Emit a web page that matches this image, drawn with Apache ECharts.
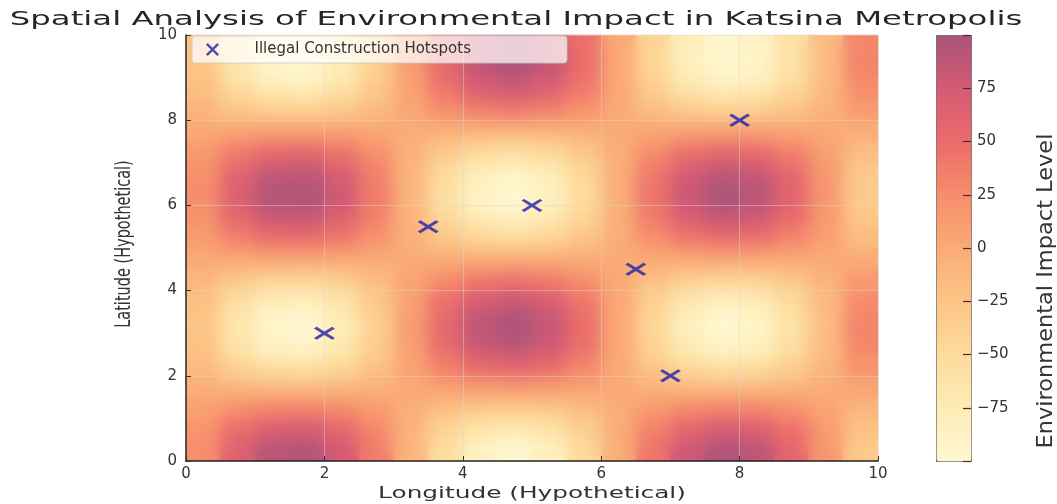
<!DOCTYPE html>
<html>
<head>
<meta charset="utf-8">
<script src="https://cdn.jsdelivr.net/npm/echarts@6/dist/echarts.min.js"></script>
<style>
  body { margin: 0; background: #fff; }
  .layer { position: absolute; left: 0; top: 0; width: 1057px; height: 504px; }
  /* blurred copy of the field, clipped to the plot so the cells read as a smooth surface */
  #smooth { position: absolute; left: 186px; top: 35px; width: 692px; height: 426px; filter: blur(9px); clip-path: inset(0); }
</style>
</head>
<body>
<div id="base" class="layer"></div>
<div id="smooth"></div>
<div id="top" class="layer"></div>
<script>
// cell centres (0.5 wide cells)
const lonCenters = ['0.25','0.75','1.25','1.75','2.25','2.75','3.25','3.75','4.25','4.75','5.25','5.75','6.25','6.75','7.25','7.75','8.25','8.75','9.25','9.75'];
const latCenters = ['0.25','0.75','1.25','1.75','2.25','2.75','3.25','3.75','4.25','4.75','5.25','5.75','6.25','6.75','7.25','7.75','8.25','8.75','9.25','9.75'];

// impact level, one row per latitude (bottom row first)
const impactRows = [
  [24,66,92,95,75,37,-10,-55,-87,-97,-83,-49,-3,44,80,96,89,60,17,-31],
  [18,50,69,72,57,28,-8,-42,-66,-73,-63,-37,-2,33,60,73,67,46,13,-23],
  [8,21,30,31,25,12,-3,-18,-28,-31,-27,-16,-1,14,26,31,29,20,5,-10],
  [-4,-12,-17,-18,-14,-7,2,10,16,18,15,9,1,-8,-15,-18,-16,-11,-3,6],
  [-16,-43,-60,-62,-49,-24,7,36,56,63,54,32,2,-28,-52,-62,-58,-39,-11,20],
  [-23,-63,-88,-91,-72,-35,10,53,83,92,79,47,3,-42,-76,-92,-85,-58,-16,30],
  [-25,-68,-94,-98,-77,-38,11,57,89,99,85,50,3,-45,-82,-99,-91,-62,-17,32],
  [-20,-56,-78,-81,-64,-31,9,47,73,82,71,42,3,-37,-68,-82,-75,-51,-14,26],
  [-11,-30,-42,-44,-35,-17,5,26,40,45,38,23,1,-20,-37,-44,-41,-28,-8,14],
  [1,3,4,4,3,1,0,-2,-3,-4,-3,-2,0,2,3,4,3,2,1,-1],
  [13,35,49,50,40,20,-6,-29,-46,-51,-44,-26,-2,23,42,51,47,32,9,-16],
  [21,59,82,85,67,33,-9,-49,-77,-86,-74,-44,-3,39,71,86,79,54,15,-28],
  [25,68,95,98,78,38,-11,-57,-89,-100,-86,-51,-3,45,82,99,92,62,17,-32],
  [22,61,85,88,69,34,-10,-51,-80,-89,-77,-45,-3,40,74,89,82,56,16,-29],
  [14,39,54,56,44,22,-6,-32,-51,-57,-49,-29,-2,25,47,56,52,35,10,-18],
  [2,6,8,9,7,3,-1,-5,-8,-9,-8,-4,0,4,7,9,8,5,2,-3],
  [-10,-27,-38,-39,-31,-15,4,23,36,40,34,20,1,-18,-33,-40,-37,-25,-7,13],
  [-19,-53,-74,-77,-61,-30,8,45,70,78,67,40,3,-35,-64,-78,-72,-49,-14,25],
  [-24,-67,-93,-97,-77,-38,11,56,88,98,85,50,3,-44,-81,-98,-91,-61,-17,32],
  [-23,-64,-89,-93,-73,-36,10,54,84,94,81,48,3,-42,-78,-94,-87,-59,-16,30]
];

const hotspotLon = [2, 3.5, 5, 6.5, 7, 8];
const hotspotLat = [3, 5.5, 6, 4.5, 2, 8];

const impactColors = ['#fff8d4','#feecb5','#fddb9c','#fcc586','#faab76','#f68d6b','#eb6c6b','#d65a74','#a8547a'];
const FONT = "'DejaVu Sans', sans-serif";
const XMARK = 'path://M0,1.3L1.3,0L5,3.7L8.7,0L10,1.3L6.3,5L10,8.7L8.7,10L5,6.3L1.3,10L0,8.7L3.7,5Z';

const cells = [];
impactRows.forEach((row, j) => row.forEach((v, i) => cells.push([i, j, v])));

function fieldOption(grid, visualMap) {
    return {
        animation: false,
        grid: grid,
        xAxis: { type: 'category', data: lonCenters, show: false },
        yAxis: { type: 'category', data: latCenters, show: false },
        visualMap: Object.assign({
            type: 'continuous',
            min: -100,
            max: 100,
            calculable: false,
            inRange: { color: impactColors }
        }, visualMap),
        series: [{ type: 'heatmap', data: cells, itemStyle: { borderWidth: 0 } }]
    };
}

// layer 1: sharp cells + colour bar
const baseChart = echarts.init(document.getElementById('base'));
baseChart.setOption(fieldOption(
    { left: 186, top: 35, width: 692, height: 426 },
    { show: true, left: 936, top: 35, itemWidth: 35, itemHeight: 426, padding: 0, borderColor: '#5a5a5a', borderWidth: 1 }
));

// layer 2: same cells, blurred by css
const smoothChart = echarts.init(document.getElementById('smooth'));
smoothChart.setOption(fieldOption(
    { left: 0, top: 0, right: 0, bottom: 0 },
    { show: false }
));

// layer 3: axes, hotspots, legend and texts
const topChart = echarts.init(document.getElementById('top'));
const hotspots = hotspotLon.map((x, i) => [x, hotspotLat[i]]);

topChart.setOption({
    animation: false,
    backgroundColor: 'transparent',
    grid: [
        { left: 186, top: 35, width: 692, height: 426 },
        { left: 936, top: 35, width: 35, height: 426 }
    ],
    xAxis: [
        {
            type: 'value', min: 0, max: 10, interval: 2,
            axisLine: { lineStyle: { color: '#262626', width: 1.5 } },
            axisTick: { inside: true, length: 5, lineStyle: { color: '#333' } },
            axisLabel: { fontSize: 15, color: '#333', fontFamily: FONT, margin: 6 },
            splitLine: { lineStyle: { color: 'rgba(215,215,215,0.45)', width: 1 } }
        },
        { gridIndex: 1, type: 'value', min: 0, max: 1, show: false }
    ],
    yAxis: [
        {
            type: 'value', min: 0, max: 10, interval: 2,
            axisLine: { show: true, lineStyle: { color: '#262626', width: 1.5 } },
            axisTick: { show: true, inside: true, length: 5, lineStyle: { color: '#333' } },
            axisLabel: { fontSize: 15, color: '#333', fontFamily: FONT, margin: 9 },
            splitLine: { lineStyle: { color: 'rgba(215,215,215,0.45)', width: 1 } }
        },
        {
            // colour bar scale on the bar's right edge
            gridIndex: 1, type: 'value', position: 'right', min: -100, max: 100, interval: 25,
            axisLine: { show: false, onZero: false },
            axisTick: { show: true, inside: true, length: 8, lineStyle: { color: '#4a2a2a', width: 1.2 } },
            axisLabel: {
                fontSize: 15, color: '#333', fontFamily: FONT, margin: 6,
                formatter: v => Math.abs(v) === 100 ? '' : String(v).replace('-', '\u2212')
            },
            splitLine: { show: false }
        }
    ],
    legend: {
        data: ['Illegal Construction Hotspots'],
        left: 192, top: 36,
        padding: [6, 0, 6, 14],
        itemWidth: 22, itemHeight: 13,
        icon: XMARK,
        backgroundColor: 'rgba(255,255,255,0.72)',
        borderColor: 'rgba(200,200,200,0.8)', borderWidth: 1, borderRadius: 3,
        formatter: name => '{t|' + name + '}',
        textStyle: {
            rich: {
                t: {
                    fontSize: 15, color: '#333', fontFamily: FONT,
                    padding: [0, 96, 0, 26], backgroundColor: 'rgba(255,255,255,0)'
                }
            }
        }
    },
    series: [{
        name: 'Illegal Construction Hotspots',
        type: 'scatter',
        data: hotspots,
        symbol: XMARK,
        symbolSize: [21, 13],
        itemStyle: { color: '#1f1fad' },
        z: 10
    }],
    graphic: [
        {
            type: 'text', x: 516, y: 20, scaleX: 1.66,
            style: { text: 'Spatial Analysis of Environmental Impact in Katsina Metropolis', fontSize: 19.5, fontFamily: FONT, fill: '#262626', align: 'center', verticalAlign: 'middle' }
        },
        {
            type: 'text', x: 532, y: 494, scaleX: 1.6,
            style: { text: 'Longitude (Hypothetical)', fontSize: 15.5, fontFamily: FONT, fill: '#333', align: 'center', verticalAlign: 'middle' }
        },
        {
            type: 'text', x: 124, y: 244, rotation: Math.PI / 2, scaleY: 1.5,
            style: { text: 'Latitude (Hypothetical)', fontSize: 14.5, fontFamily: FONT, fill: '#333', align: 'center', verticalAlign: 'middle' }
        },
        {
            type: 'text', x: 1046, y: 291, rotation: Math.PI / 2, scaleX: 1.55, scaleY: 1.5,
            style: { text: 'Environmental Impact Level', fontSize: 14.5, fontFamily: FONT, fill: '#333', align: 'center', verticalAlign: 'middle' }
        }
    ]
});
</script>
</body>
</html>
